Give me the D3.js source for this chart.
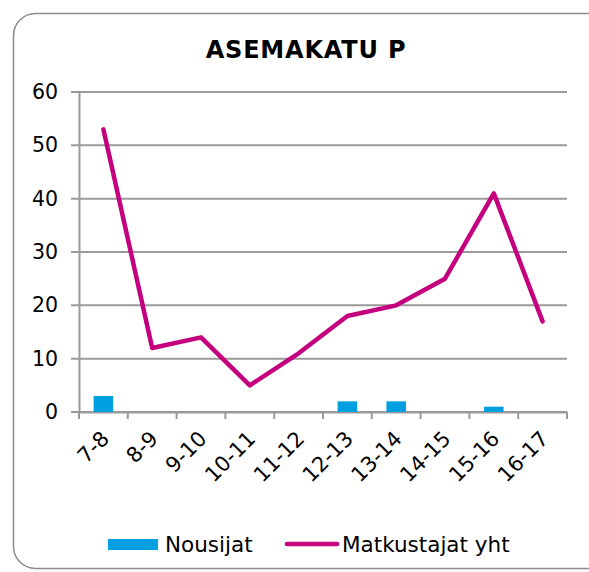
<!DOCTYPE html>
<html>
<head>
<meta charset="utf-8">
<script src="https://d3js.org/d3.v7.min.js"></script>
<style>
  body { margin: 0; background: #fff; }
  text { font-family: "DejaVu Sans", Verdana, sans-serif; fill: #000; }
</style>
</head>
<body>
<svg width="589" height="572"></svg>
<script>
var hours = ["7-8", "8-9", "9-10", "10-11", "11-12", "12-13", "13-14", "14-15", "15-16", "16-17"];
var nousijat = [3, 0, 0, 0, 0, 2, 2, 0, 1, 0];
var matkustajat = [53, 12, 14, 5, 11, 18, 20, 25, 41, 17];
var yTicks = [0, 10, 20, 30, 40, 50, 60];

var svg = d3.select("svg");

// chart frame
svg.append("rect")
  .attr("x", 13.5).attr("y", 13.5)
  .attr("width", 600).attr("height", 555)
  .attr("rx", 22)
  .attr("fill", "#fff")
  .attr("stroke", "#8c8c8c").attr("stroke-width", 1.5);

svg.append("text")
  .attr("x", 306).attr("y", 58)
  .attr("text-anchor", "middle")
  .style("font-size", "24px").style("font-weight", "bold")
  .style("letter-spacing", "0.8px")
  .text("ASEMAKATU P");

var x = d3.scaleBand().domain(hours).range([79, 567]);
var y = d3.scaleLinear().domain([0, 60]).range([412, 92]);

// gridlines
svg.append("g").selectAll("line")
  .data(yTicks)
  .enter().append("line")
  .attr("x1", 71).attr("x2", 567)
  .attr("y1", function(d) { return y(d); })
  .attr("y2", function(d) { return y(d); })
  .attr("stroke", "#9a9a9a").attr("stroke-width", 2);

// y axis
var yAxis = svg.append("g")
  .attr("transform", "translate(79,0)")
  .call(d3.axisLeft(y).tickValues(yTicks).tickSize(0).tickPadding(21));
yAxis.select(".domain").attr("stroke", "#9a9a9a").attr("stroke-width", 2);
yAxis.selectAll("text").style("font-size", "20.5px").attr("fill", "#000");

// x axis
var xAxis = svg.append("g")
  .attr("transform", "translate(0,412)")
  .call(d3.axisBottom(x).tickSize(0).tickFormat(""));
xAxis.select(".domain").attr("stroke", "#9a9a9a").attr("stroke-width", 2);
var edges = hours.map(function(h) { return x(h); }).concat([x.range()[1]]);
xAxis.selectAll(".edge")
  .data(edges)
  .enter().append("line")
  .attr("x1", function(d) { return d; }).attr("x2", function(d) { return d; })
  .attr("y1", 0).attr("y2", 7)
  .attr("stroke", "#9a9a9a").attr("stroke-width", 2);

svg.append("g").selectAll("text")
  .data(hours)
  .enter().append("text")
  .attr("text-anchor", "end")
  .attr("transform", function(d) {
    return "translate(" + (x(d) + x.bandwidth() / 2 + 7) + ",440) rotate(-45)";
  })
  .style("font-size", "21px")
  .text(function(d) { return d; });

// bars
var bw = x.bandwidth() * 0.4;
svg.append("g").selectAll("rect")
  .data(nousijat)
  .enter().append("rect")
  .attr("x", function(d, i) { return x(hours[i]) + (x.bandwidth() - bw) / 2; })
  .attr("y", function(d) { return y(d); })
  .attr("width", bw)
  .attr("height", function(d) { return y(0) - y(d); })
  .attr("fill", "#009fe0");

// line
var line = d3.line()
  .x(function(d, i) { return x(hours[i]) + x.bandwidth() / 2; })
  .y(function(d) { return y(d); });
svg.append("path")
  .datum(matkustajat)
  .attr("d", line)
  .attr("fill", "none")
  .attr("stroke", "#c4007f")
  .attr("stroke-width", 4.5)
  .attr("stroke-linejoin", "round")
  .attr("stroke-linecap", "round");

// legend
svg.append("rect")
  .attr("x", 108).attr("y", 539)
  .attr("width", 50).attr("height", 11)
  .attr("fill", "#009fe0");
svg.append("text")
  .attr("x", 165).attr("y", 552)
  .style("font-size", "21.5px")
  .text("Nousijat");
svg.append("line")
  .attr("x1", 287).attr("x2", 337)
  .attr("y1", 544).attr("y2", 544)
  .attr("stroke", "#c4007f").attr("stroke-width", 4.5)
  .attr("stroke-linecap", "round");
svg.append("text")
  .attr("x", 342).attr("y", 552)
  .style("font-size", "21.5px")
  .text("Matkustajat yht");
</script>
</body>
</html>
